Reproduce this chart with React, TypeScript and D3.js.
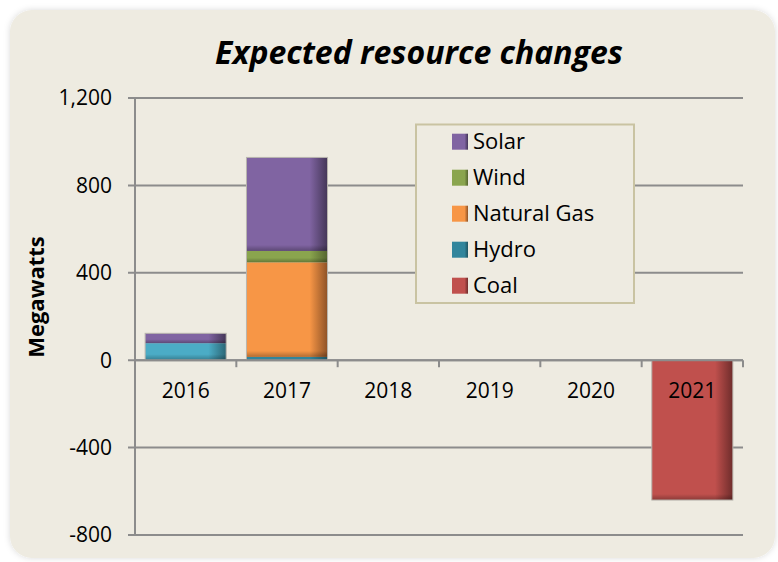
import React from 'react';
import * as d3 from 'd3';

const years = ['2016', '2017', '2018', '2019', '2020', '2021'];
const solar = [45, 428, 0, 0, 0, 0];
const wind = [0, 52, 0, 0, 0, 0];
const naturalGas = [0, 433, 0, 0, 0, 0];
const hydro = [78, 15, 0, 0, 0, 0];
const coal = [0, 0, 0, 0, 0, -640];
const yTicks = [-800, -400, 0, 400, 800, 1200];
const legendOrder = ['Solar', 'Wind', 'Natural Gas', 'Hydro', 'Coal'];

const seriesDefs = [
  { key: 'Coal', values: coal, color: '#C0504D', dark: '#6E2C2B' },
  { key: 'Hydro', values: hydro, color: '#31859C', dark: '#1F5461' },
  { key: 'Natural Gas', values: naturalGas, color: '#F79646', dark: '#8E5226' },
  { key: 'Wind', values: wind, color: '#8AA54E', dark: '#55652F' },
  { key: 'Solar', values: solar, color: '#8064A2', dark: '#443657' },
];
const pointOverride: Record<string, { color: string; dark: string }> = {
  'Hydro-2016': { color: '#4BACC6', dark: '#2B6675' },
};

const W = 778, H = 562;
const plot = { left: 135, right: 743, top: 98, bottom: 535 };

export default function App() {
  const x = d3.scaleBand<string>().domain(years).range([plot.left, plot.right]).paddingInner(0.2).paddingOuter(0.1);
  const y = d3.scaleLinear().domain([-800, 1200]).range([plot.bottom, plot.top]);
  const step = x.step();

  const table = years.map((yr, i) => {
    const row: Record<string, any> = { year: yr };
    seriesDefs.forEach((s) => (row[s.key] = s.values[i]));
    return row;
  });
  const stacked = d3.stack<any>().keys(seriesDefs.map((s) => s.key)).offset(d3.stackOffsetDiverging)(table);

  const font = "'Open Sans', sans-serif";
  const gridColor = '#8C8C8C';
  const fmt = (v: number) => d3.format(',')(v).replace('\u2212', '-');

  const gradId = (k: string) => 'g-' + k.replace(/\s/g, '');
  const allColors: { id: string; color: string; dark: string }[] = [];
  seriesDefs.forEach((s) => allColors.push({ id: gradId(s.key), color: s.color, dark: s.dark }));
  Object.entries(pointOverride).forEach(([k, v]) => allColors.push({ id: gradId(k), ...v }));

  const colorOf = (k: string) => seriesDefs.find((s) => s.key === k)!;

  return (
    <div style={{ position: 'absolute', left: 0, top: 0 }}>
      <svg width={W} height={H} style={{ display: 'block', background: '#fff' }}>
        <defs>
          {allColors.map((c) => (
            <linearGradient key={c.id} id={c.id} x1="0" x2="1" y1="0" y2="0">
              <stop offset="0" stopColor={c.color} />
              <stop offset="0.78" stopColor={c.color} />
              <stop offset="1" stopColor={c.dark} />
            </linearGradient>
          ))}
          <linearGradient id="bottomShade" x1="0" x2="0" y1="0" y2="1">
            <stop offset="0" stopColor="#000" stopOpacity="0" />
            <stop offset="1" stopColor="#000" stopOpacity="0.28" />
          </linearGradient>
          <filter id="panelShadow" x="-5%" y="-5%" width="110%" height="110%">
            <feDropShadow dx="0" dy="0" stdDeviation="3" floodColor="#000" floodOpacity="0.15" />
          </filter>
        </defs>
        <rect x={10} y={10} width={765} height={548} rx={22} fill="#EEEBE1" filter="url(#panelShadow)" />

        <text x={419} y={64} textAnchor="middle" fontFamily={font} fontSize={32} fontWeight="bold" fontStyle="italic" fill="#000">
          Expected resource changes
        </text>

        {yTicks.map((t) => (
          <g key={t}>
            <line x1={plot.left - 7} x2={plot.right} y1={y(t)} y2={y(t)} stroke={gridColor} strokeWidth={2} />
            <text x={112} y={y(t)} dy="0.35em" textAnchor="end" fontFamily={font} fontSize={21} fill="#000">
              {fmt(t)}
            </text>
          </g>
        ))}
        <line x1={plot.left} x2={plot.left} y1={plot.top} y2={plot.bottom} stroke={gridColor} strokeWidth={2} />

        {stacked.map((layer) =>
          layer.map((d, i) => {
            const v0 = d[0], v1 = d[1];
            if (v0 === v1) return null;
            const yr = years[i];
            const ov = pointOverride[layer.key + '-' + yr];
            const fill = ov ? gradId(layer.key + '-' + yr) : gradId(layer.key);
            const top = y(Math.max(v0, v1));
            const bot = y(Math.min(v0, v1));
            const h = bot - top;
            const sh = Math.min(6, h * 0.4);
            return (
              <g key={layer.key + yr}>
                <rect x={x(yr)!} y={top} width={x.bandwidth()} height={h} fill={`url(#${fill})`} />
                <rect x={x(yr)!} y={bot - sh} width={x.bandwidth()} height={sh} fill="url(#bottomShade)" />
              </g>
            );
          })
        )}
        {years.map((yr, i) => {
          const pos = seriesDefs.reduce((a, s) => a + Math.max(0, s.values[i]), 0);
          const neg = seriesDefs.reduce((a, s) => a + Math.min(0, s.values[i]), 0);
          if (pos === 0 && neg === 0) return null;
          return (
            <rect key={'o' + yr} x={x(yr)!} y={y(pos)} width={x.bandwidth()} height={y(neg) - y(pos)} fill="none" stroke="#B8B5AE" strokeWidth={1} />
          );
        })}

        <line x1={plot.left} x2={plot.right} y1={y(0)} y2={y(0)} stroke={gridColor} strokeWidth={2} />
        {years.map((yr, i) => (
          <line key={'t' + yr} x1={plot.left + step * (i + 1)} x2={plot.left + step * (i + 1)} y1={y(0)} y2={y(0) + 7} stroke={gridColor} strokeWidth={2} />
        ))}
        {years.map((yr) => (
          <text key={'l' + yr} x={x(yr)! + x.bandwidth() / 2} y={390.5} dy="0.35em" textAnchor="middle" fontFamily={font} fontSize={21} fill="#000">
            {yr}
          </text>
        ))}

        <text transform={`translate(44,297) rotate(-90)`} textAnchor="middle" fontFamily={font} fontSize={22} fontWeight="bold" fill="#000">
          Megawatts
        </text>

        <rect x={416} y={124.5} width={218} height={178.5} fill="#EEEBE1" stroke="#C9C3A2" strokeWidth={2} />
        {legendOrder.map((k, i) => {
          const s = colorOf(k);
          const cy = 141.7 + i * 36;
          return (
            <g key={'lg' + k}>
              <rect x={452} y={cy - 8} width={16} height={16} fill={`url(#${gradId(s.key)})`} />
              <text x={473} y={cy} dy="0.35em" fontFamily={font} fontSize={22} fill="#000">
                {k}
              </text>
            </g>
          );
        })}
      </svg>
    </div>
  );
}
